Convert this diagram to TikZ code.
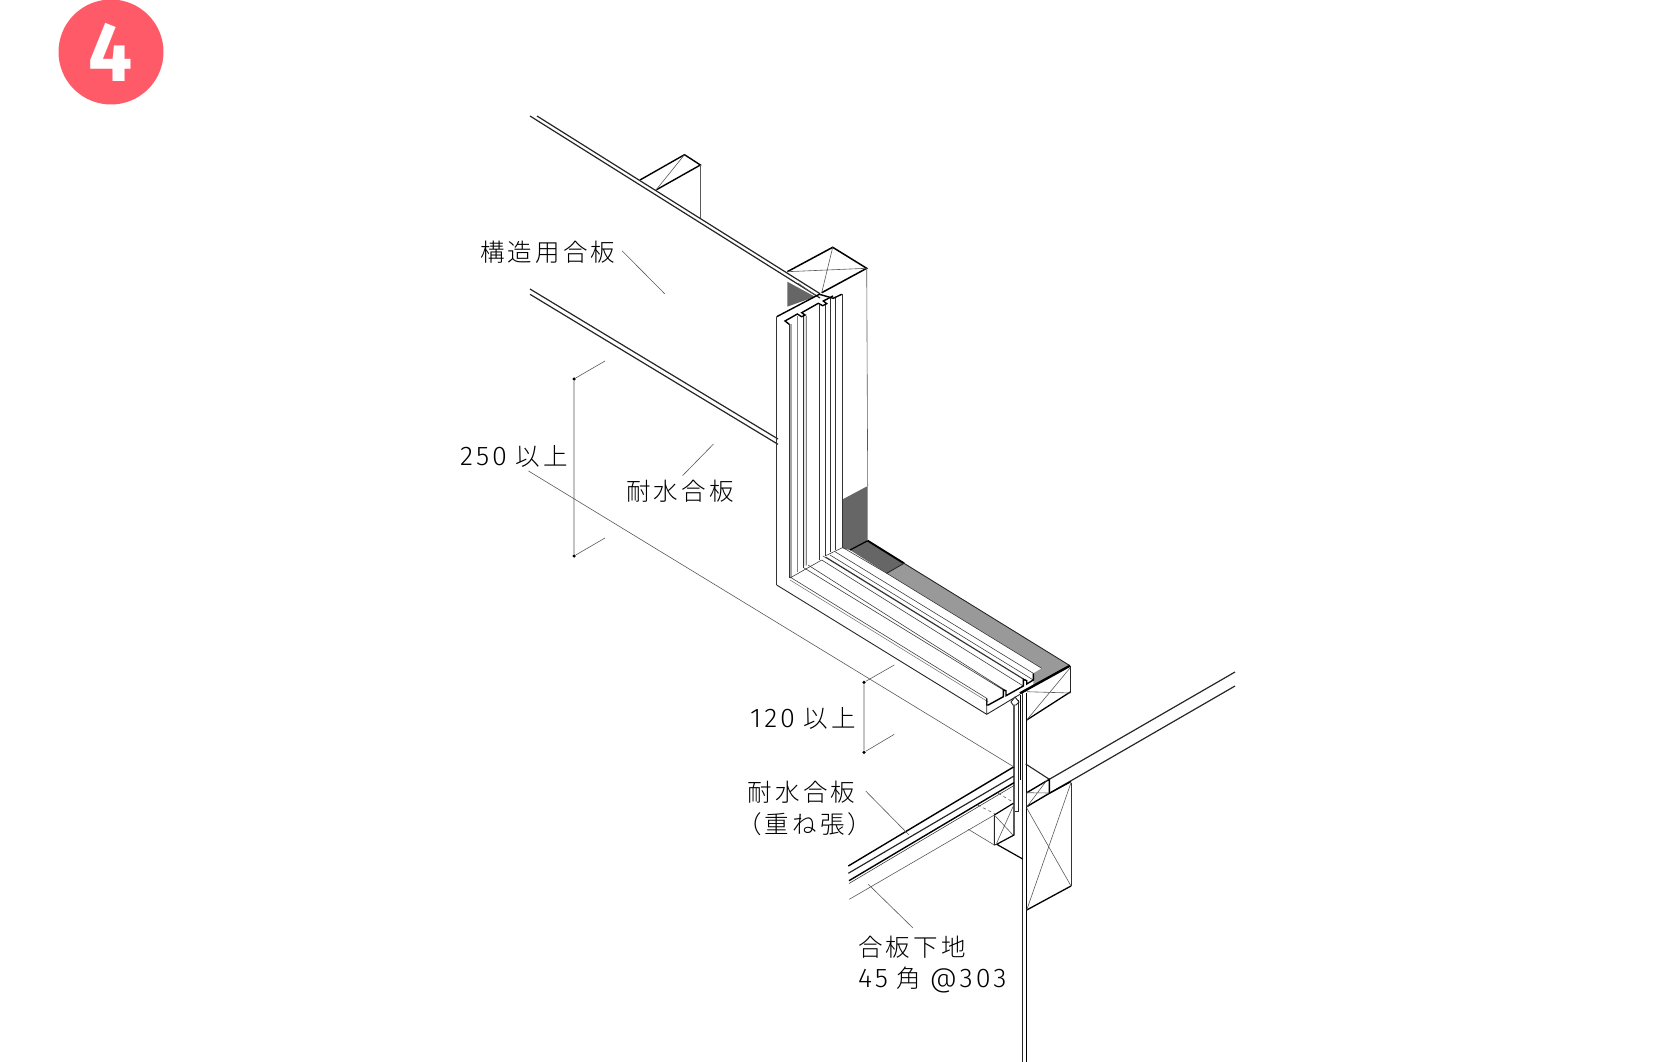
\documentclass[tikz,border=0pt]{standalone}
\usepackage{fontspec}
\usepackage{tikz}
\newfontfamily\jpfont[LetterSpace=13]{Noto Sans CJK JP Light}
\newfontfamily\numfont[LetterSpace=11]{Fira Sans Light}
\newfontfamily\badgefont{Fira Sans}
\definecolor{badgered}{RGB}{255,90,104}
\definecolor{darkfill}{RGB}{102,102,102}
\definecolor{lightfill}{RGB}{153,153,153}
\tikzset{
        hair/.style={line width=0.6pt, black!65}, % leaders and cross marks
        edge/.style={line width=0.9pt, black!85},
        fine/.style={line width=0.55pt, black!80}, % jamb and sill grooves
        bold/.style={line width=1.9pt, black},
        dimdot/.style={circle, fill=black, inner sep=0pt, minimum size=3.5pt},
        caption/.style={anchor=west, inner sep=0pt, font=\jpfont\fontsize{24.5}{26}\selectfont},
}
\def\numtxt#1{{\numfont\fontsize{27}{27}\selectfont #1}}
\def\floordark{(850,550) -- (867.7,540.7) -- (904,563.3) -- (886.7,573.3) -- cycle}
\def\floorlight{(886.7,573.3) -- (904,563.3) -- (1070,665.7) -- (1033.3,686) -- (1033.3,673.3) -- (1041.7,668.3) -- cycle}
\begin{document}
\begin{tikzpicture}[x=1pt, y=-1pt]
  \useasboundingbox (0,0) rectangle (1667,1062);
  % badge
  \fill[badgered] (111,52) circle (52.5);
  \node (badge) at (111,52) [text=white, xscale=0.93, transform shape, font=\badgefont\bfseries\fontsize{84}{84}\selectfont] {4};
  % gray faces
  \fill[darkfill] (842.7,499.3) -- (867.7,486) -- (867.7,540.7) -- (850,550) -- (842.7,548.3) -- cycle;
  \fill[darkfill] \floordark;
  \fill[lightfill] \floorlight;
  \fill[darkfill] (787.3,281.7) -- (787.3,306.7) -- (815,296.7) -- cycle;
  \fill[black!35] (789.6,324) rectangle (791.8,578);
  \fill[black!12] (803.3,314) rectangle (806.7,566);
  % small post, upper left
  \draw[bold, line width=1.4pt] (640,180) -- (684.5,154.7) -- (700.4,165) -- (656,190);
  \draw[hair] (684.5,154.7) -- (656,190);
  \draw[hair] (700.4,165) -- (700.4,218);
  % plywood lines
  \draw[edge, line width=1.2pt] (530,116) -- (820,298);
  \draw[edge, line width=1.2pt] (537,116) -- (820,293.7);
  \draw[edge, line width=1.2pt] (530,289) -- (778,439);
  \draw[edge, line width=1.2pt] (530,294.3) -- (778,444.3);
  \draw[hair] (798.3,283.3) -- (815,295);
  % corner post top
  \draw[bold, line width=1.5pt] (787.3,271.7) -- (832.7,247.3) -- (866.7,268.3) -- (821.7,292.7);
  \draw[hair] (787.3,271.7) -- (866.7,268.3) (832.7,247.3) -- (821.7,292.7);
  \draw[hair] (866.7,268.3) -- (867.7,486);
  % jamb uprights
  \foreach \xa/\ya/\yb in {776.7/316.7/585, 789.3/324/578, 803.3/314/568, 819.5/305/560, 825/304/556, 830/298/552, 835/298/550, 842.7/294.3/548}
    \draw[fine] (\xa,\ya) -- (\xa,\yb);
  \foreach \xa/\ya/\yb in {797.3/316/571.7, 806.7/316/565}
    \draw[fine, black!50] (\xa,\ya) -- (\xa,\yb);
  % jamb head profile
  \draw[bold, line width=1.4pt] (776.7,316.7) -- (819.3,294.3) -- (833.3,298.3) -- (841.7,294.3);
  \draw[bold, line width=1.4pt] (789.3,324.3) -- (785,321) -- (797.3,314) -- (801.7,316.7) -- (805,315) -- (801.7,312.7)
     -- (818.3,303.3) -- (822.7,305.7) -- (826.7,303.7) -- (823.3,301) -- (833,296);
  % sill lines
  \draw[fine] (790,578) -- (821.7,560) (825,556) -- (842.7,547.5);
  \draw[edge] (776.7,585) -- (986.7,714.3);
  \draw[fine] (790,577) -- (986.7,698.3);
  \draw[fine, black!55] (790,580) -- (988.3,702);
  \draw[fine] (803.3,567.5) -- (1003.3,690) (808,565) -- (1006,690.7)
     (821.7,560) -- (1023.3,686) (823,556) -- (1023.3,679.3) (826,557) -- (1026.7,680.7)
     (830,555) -- (1033.3,680) (835,551.7) -- (1033.3,673.3) (842.7,547.5) -- (886.7,573.3) -- (1041.7,668.3);
  % sill end profile
  \draw[bold, line width=1.4pt] (986.7,698.3) -- (986.7,705) -- (988.3,705) -- (1003.3,696.7) -- (1003.3,690) -- (1006,690.7) -- (1006,695.7)
     -- (1023.3,686) -- (1023.3,679.3) -- (1026.7,680.7) -- (1026.7,684) -- (1033.3,680) -- (1033.3,673.3);
  \draw[edge] (986.7,698.3) -- (986.7,714.3) -- (1020,694.3);
  \draw[bold] (867.7,540.7) -- (904,563.3);
  \draw[edge] (904,563.3) -- (1070,665.7);
  \draw[bold, line width=1.2pt] (850,550) -- (867.7,540.7);
  \draw[edge] (886.7,573.3) -- (904,563.3);
  % box under the sill
  \draw[bold, line width=2.4pt] (1020,693.3) -- (1070,665.7);
  \draw[edge] (1070.7,665.7) -- (1070.7,691.7);
  \draw[bold, line width=1.3pt] (1070.7,691.7) -- (1026.7,720);
  \draw[hair] (1026.7,691.7) -- (1070.7,693) (1026.7,720) -- (1070,668);
  % wall layers
  \draw[bold, line width=1.5pt] (1026.5,693) -- (1026.5,1062);
  \draw[edge] (1022.7,693) -- (1022.7,1062);
  \draw[bold, line width=1.2pt] (1020.8,695) -- (1020.8,780);
  \draw[edge] (1018.8,700) -- (1018.8,811) -- (1015,811);
  \draw[bold, line width=1.2pt] (1014,702) -- (1014,835) -- (996.7,844.3) -- (1022.7,859);
  \draw[edge, fill=white] (1011,702) -- (1015,697) -- (1019,702) -- (1016,705) -- (1013,705) -- cycle;
  % floor lines to the left
  \draw[bold, line width=1.4pt] (848.3,866) -- (1014,766.7);
  \draw[edge, line width=1.2pt] (848.3,873.3) -- (1014,776);
  \draw[bold, line width=1.4pt] (849,880.7) -- (1014,782.7);
  \draw[fine] (849,883.5) -- (1014,785.5);
  \draw[hair] (849.3,899.3) -- (994.3,815);
  \draw[hair] (968.3,829.3) -- (994.3,845);
  \draw[hair, dashed] (977.7,805) -- (995,814) (998.3,793.3) -- (1015,803.3);
  % small joist
  \draw[bold, line width=1.2pt] (994.3,815) -- (1013.3,803.3);
  \draw[edge] (994.3,815) -- (994.3,845) -- (996.7,844.3);
  \draw[hair] (996.7,843) -- (1013.3,806) (994.3,815) -- (1013,835);
  % beam to the right
  \draw[edge, line width=1.1pt] (1025.7,764) -- (1049.3,779.3);
  \draw[bold, line width=1.4pt] (1026.7,792.7) -- (1049.3,779.3) -- (1049.3,793.3) -- (1026.7,806.7);
  \draw[edge] (1026.7,792.7) -- (1026.7,806.7);
  \draw[hair] (1026.7,792.7) -- (1049.3,793) (1027,806.7) -- (1047,780);
  \draw[edge, line width=1.2pt] (1049.3,779.3) -- (1235,672);
  \draw[edge, line width=1.2pt] (1049.3,793.3) -- (1235,686);
  % big post
  \draw[bold, line width=1.4pt] (1049.3,793.3) -- (1071,781.5);
  \draw[fine] (1071,782.7) -- (1071,886);
  \draw[bold, line width=1.3pt] (1026.7,910) -- (1071,886);
  \draw[hair] (1026.7,808) -- (1071,886) (1071,782.7) -- (1026.7,910);
  % dimensions
  \node[dimdot] (dimA) at (574,379) {};
  \node[dimdot] (dimB) at (574,556) {};
  \node[dimdot] (dimC) at (864,682.3) {};
  \node[dimdot] (dimD) at (864,752.3) {};
  \coordinate (tickA) at (605,361);
  \coordinate (tickB) at (605,538);
  \coordinate (tickC) at (894.3,665);
  \coordinate (tickD) at (894.3,734.3);
  \draw[hair] (tickA) -- (dimA) -- (dimB) -- (tickB);
  \draw[hair] (tickC) -- (dimC) -- (dimD) -- (tickD);
  \draw[hair] (528.5,471) -- (1014,767);
  % leaders
  \draw[hair] (622,250.7) -- (664.6,293.7);
  \draw[hair] (713.5,444) -- (682.5,475.7);
  \draw[hair] (865.7,791) -- (909,835);
  \draw[hair] (868.3,884.3) -- (913,928);
  % labels
  \node[caption] (kozo) at (480,252) {構造用合板};
  \node[caption] (taisuiA) at (626,491) {耐水合板};
  \node[caption] (dimTall) at (460,456) {\numtxt{250} 以上};
  \node[caption] (dimLow) at (750,718) {\numtxt{120} 以上};
  \node[caption] (taisuiB) at (747.5,792) {耐水合板};
  \node[caption] (kasane) at (737,824) {（重ね張）};
  \node[caption] (shita) at (858,947) {合板下地};
  \node[caption] (pitch) at (858,980) {\numtxt{45} 角 \numtxt{@303}};
\end{tikzpicture}
\end{document}
